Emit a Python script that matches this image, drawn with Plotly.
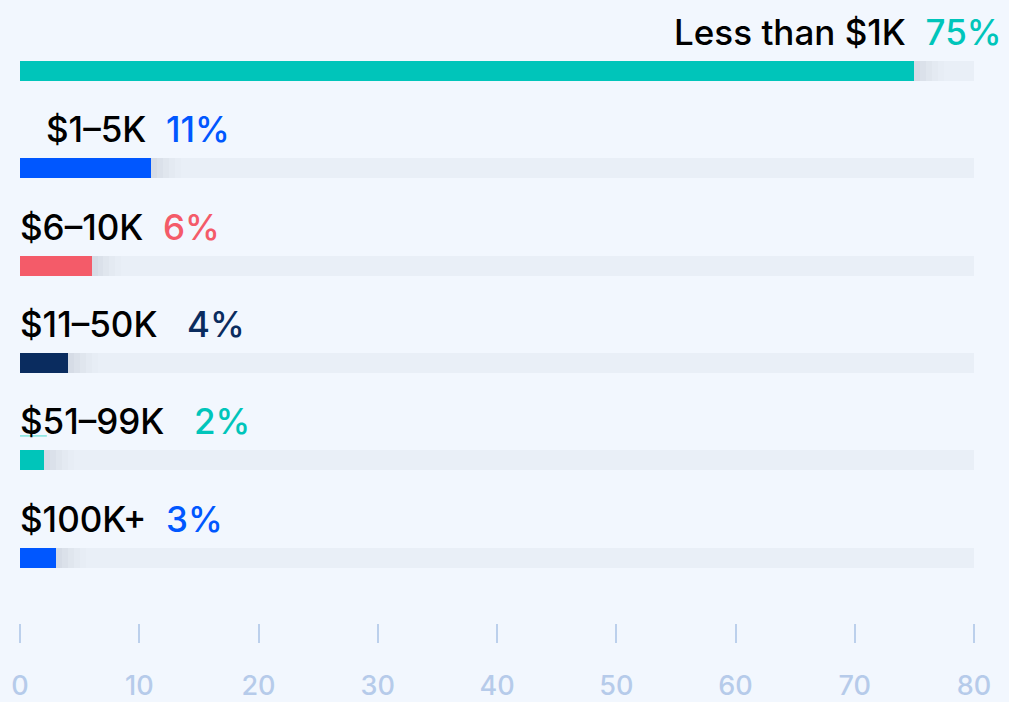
"""Share of respondents by amount, horizontal progress-style bar chart."""

import plotly.graph_objects as go

categories = ["Less than $1K", "$1–5K", "$6–10K", "$11–50K", "$51–99K", "$100K+"]
shares = [75, 11, 6, 4, 2, 3]
bar_colors = ["#00C5BA", "#0057FF", "#F45B69", "#0A2C5F", "#00C5BA", "#0057FF"]
x_ticks = [0, 10, 20, 30, 40, 50, 60, 70, 80]
x_max = 80

BG = "#F2F7FE"
TRACK = "#E9EFF7"
TICK = "#BCD0EC"
FONT = "Inter"

positions = list(range(len(categories)))
bar_width = 0.206

fig = go.Figure()

# grey track behind every bar
fig.add_trace(go.Bar(
    x=[x_max] * len(categories), y=positions, orientation="h",
    width=bar_width, marker=dict(color=TRACK, line=dict(width=0)),
    hoverinfo="skip", showlegend=False,
))

# soft shadow right after each coloured bar
shadow_steps = ["#D6DCE6", "#DBE1EA", "#E0E6EE", "#E4EAF2", "#E7EDF5"]
step = 0.5
for k, col in enumerate(shadow_steps):
    fig.add_trace(go.Bar(
        x=[step] * len(categories), y=positions, base=[v + k * step for v in shares],
        orientation="h", width=bar_width,
        marker=dict(color=col, line=dict(width=0)),
        hoverinfo="skip", showlegend=False,
    ))

fig.add_trace(go.Bar(
    x=shares, y=positions, orientation="h", width=bar_width,
    marker=dict(color=bar_colors, line=dict(width=0)),
    customdata=categories,
    hovertemplate="%{customdata}: %{x}%<extra></extra>",
    showlegend=False,
))

# labels above the bars (first one hangs right, second is indented a bit)
label_x = [x_max, 0, 0, 0, 0, 0]
label_shift = [30, 24, -2, -2, -2, -2]
label_anchor = ["right", "left", "left", "left", "left", "left"]
label_gap = ["&nbsp;&nbsp;", "&nbsp;&nbsp;", "&nbsp;&nbsp;", "&nbsp;&nbsp;&nbsp;", "&nbsp;&nbsp;&nbsp;", "&nbsp;&nbsp;"]
for i, (cat, val, col) in enumerate(zip(categories, shares, bar_colors)):
    fig.add_annotation(
        x=label_x[i], xshift=label_shift[i], y=i - 0.40, xref="x", yref="y",
        xanchor=label_anchor[i], yanchor="middle", showarrow=False,
        text=f"<span style='font-weight:500'>{cat}</span>{label_gap[i]}"
             f"<span style='color:{col};font-weight:500'>{val}%</span>",
        font=dict(family=FONT, size=35, color="#000000"),
    )

# small teal underline under the "$" of the fifth label
fig.add_shape(
    type="line", xref="x", yref="y", x0=0, x1=2.25, y0=4 - 0.25, y1=4 - 0.25,
    line=dict(color="#7FE3DC", width=1.5), layer="above",
)

fig.update_layout(
    width=1009, height=702,
    margin=dict(l=20, r=35, t=0, b=77),
    paper_bgcolor=BG, plot_bgcolor=BG,
    barmode="overlay", bargap=0,
    font=dict(family=FONT),
    xaxis=dict(
        range=[0, x_max], tickvals=x_ticks, showgrid=False, zeroline=False,
        showline=False, ticks="outside", ticklen=19, tickwidth=1.5, tickcolor=TICK,
        tickfont=dict(family=FONT, size=27, color="#B6CBEA", weight=500),
        ticklabelstandoff=20, fixedrange=True,
    ),
    yaxis=dict(
        range=[5.673, -0.73], showgrid=False, zeroline=False, showline=False,
        showticklabels=False, fixedrange=True,
    ),
)

fig.write_html(
    "out.html",
    config={"displayModeBar": False},
    post_script="document.body.style.margin='0';",
)
